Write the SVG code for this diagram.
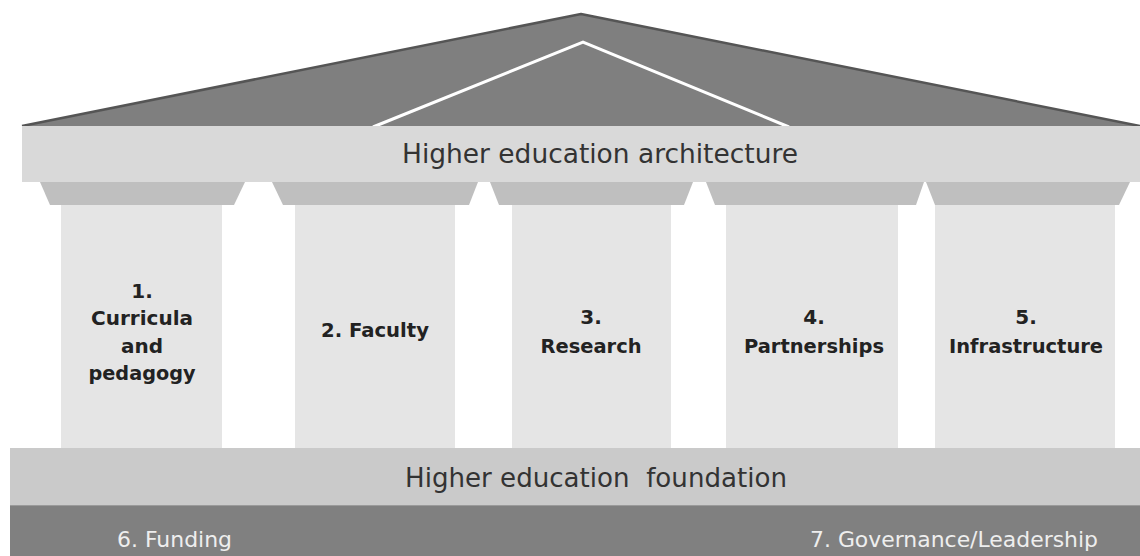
<svg xmlns="http://www.w3.org/2000/svg" width="1140" height="556" viewBox="0 0 1140 556">
  <style>
    .roof { fill: #7f7f7f; }
    .roof-edge { fill: none; stroke: #555555; stroke-width: 2.5; stroke-linejoin: round; }
    .roof-line { fill: none; stroke: #ffffff; stroke-width: 3; stroke-linejoin: miter; }
    .band-top { fill: #d9d9d9; }
    .band-found { fill: #cacaca; }
    .base { fill: #808080; }
    .capital { fill: #bfbfbf; }
    .shaft { fill: #e5e5e5; }
    .title { font-family: "DejaVu Sans", "Liberation Sans", sans-serif; font-size: 26px; fill: #333333; text-anchor: middle; }
    .pillar-text { font-family: "DejaVu Sans", "Liberation Sans", sans-serif; font-size: 20px; font-weight: bold; fill: #222222; text-anchor: middle; }
    .base-text { font-family: "DejaVu Sans", "Liberation Sans", sans-serif; font-size: 21px; fill: #eeeeee; }
  </style>

  <rect width="1140" height="556" fill="#ffffff"/>

  <!-- pediment -->
  <g id="roof">
    <polygon class="roof" points="22,126 581,14 1140,126"/>
    <polyline class="roof-edge" points="22,126 581,14 1140,126"/>
    <polyline class="roof-line" points="373,127 583,42 789,127"/>
  </g>

  <!-- architrave -->
  <g id="architecture">
    <rect class="band-top" x="22" y="126" width="1118" height="56"/>
    <text class="title" x="600" y="163" textLength="396" lengthAdjust="spacingAndGlyphs">Higher education architecture</text>
  </g>

  <!-- columns -->
  <g id="pillar1">
    <polygon class="capital" points="40,182 245,182 234,205 50,205"/>
    <rect class="shaft" x="61" y="205" width="161" height="243"/>
    <text class="pillar-text" x="142" y="298">1.</text>
    <text class="pillar-text" x="142" y="325" textLength="102" lengthAdjust="spacingAndGlyphs">Curricula</text>
    <text class="pillar-text" x="142" y="353">and</text>
    <text class="pillar-text" x="142" y="380" textLength="107" lengthAdjust="spacingAndGlyphs">pedagogy</text>
  </g>

  <g id="pillar2">
    <polygon class="capital" points="272,182 478,182 469,205 283,205"/>
    <rect class="shaft" x="295" y="205" width="160" height="243"/>
    <text class="pillar-text" x="375" y="337" textLength="108" lengthAdjust="spacingAndGlyphs">2. Faculty</text>
  </g>

  <g id="pillar3">
    <polygon class="capital" points="490,182 693,182 684,205 499,205"/>
    <rect class="shaft" x="512" y="205" width="159" height="243"/>
    <text class="pillar-text" x="591" y="324">3.</text>
    <text class="pillar-text" x="591" y="353" textLength="101" lengthAdjust="spacingAndGlyphs">Research</text>
  </g>

  <g id="pillar4">
    <polygon class="capital" points="706,182 924,182 916,205 715,205"/>
    <rect class="shaft" x="726" y="205" width="172" height="243"/>
    <text class="pillar-text" x="814" y="324">4.</text>
    <text class="pillar-text" x="814" y="353" textLength="140" lengthAdjust="spacingAndGlyphs">Partnerships</text>
  </g>

  <g id="pillar5">
    <polygon class="capital" points="926,182 1130,182 1119,205 935,205"/>
    <rect class="shaft" x="935" y="205" width="180" height="243"/>
    <text class="pillar-text" x="1026" y="324">5.</text>
    <text class="pillar-text" x="1026" y="353" textLength="154" lengthAdjust="spacingAndGlyphs">Infrastructure</text>
  </g>

  <!-- stylobate -->
  <g id="foundation">
    <rect class="band-found" x="10" y="448" width="1130" height="57"/>
    <text class="title" x="596" y="487" textLength="382" lengthAdjust="spacingAndGlyphs" xml:space="preserve">Higher education  foundation</text>
  </g>

  <g id="base">
    <rect class="base" x="10" y="505" width="1130" height="51"/>
    <line x1="10" y1="505.5" x2="1140" y2="505.5" stroke="#9a9a9a" stroke-width="1"/>
    <text class="base-text" x="117" y="547" textLength="115" lengthAdjust="spacingAndGlyphs">6. Funding</text>
    <text class="base-text" x="810" y="547" textLength="288" lengthAdjust="spacingAndGlyphs">7. Governance/Leadership</text>
  </g>
</svg>
